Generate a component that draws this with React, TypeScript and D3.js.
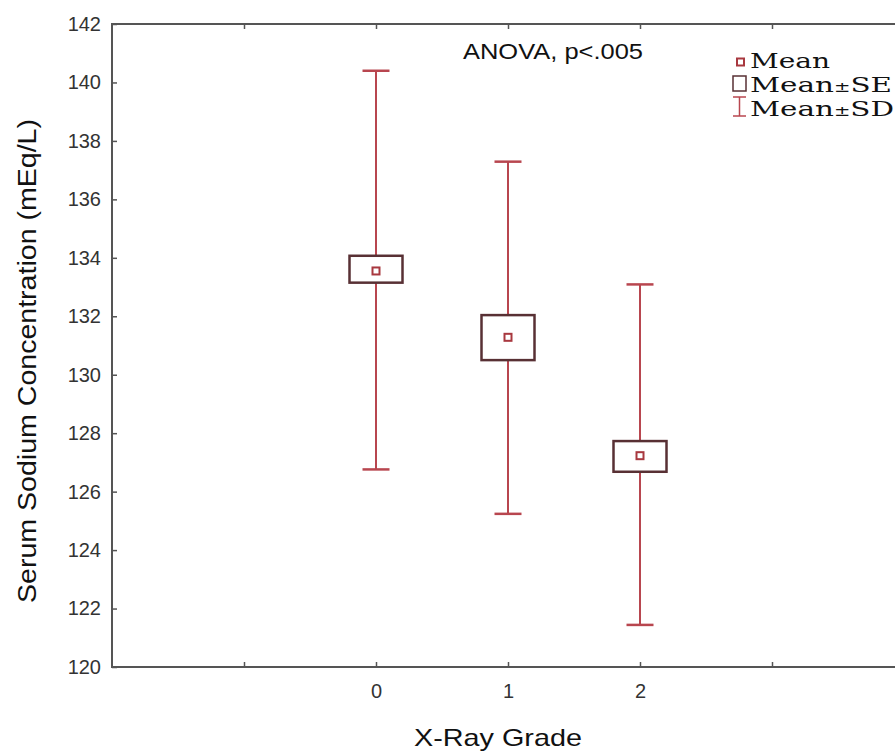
import * as d3 from 'd3';
import React, { useEffect, useRef } from 'react';

// Data
const grades = [0, 1, 2];
const means = [133.55, 131.28, 127.23];
const seLow = [133.15, 130.5, 126.68];
const seHigh = [134.07, 132.04, 127.73];
const sdLow = [126.76, 125.24, 121.44];
const sdHigh = [140.4, 137.29, 133.09];
const yTicks = [120, 122, 124, 126, 128, 130, 132, 134, 136, 138, 140, 142];
const xTicks = [-1, 0, 1, 2, 3];
const xLabelTicks = [0, 1, 2];

const legendItems = ['Mean', 'Mean±SE', 'Mean±SD'];

export default function App() {
  const svgRef = useRef<SVGSVGElement>(null);

  const width = 895;
  const height = 754;
  const left = 112;
  const top = 24;
  const bottom = 667;
  const right = 904;

  const whiskerColor = '#b8464f';
  const boxColor = '#583034';
  const meanColor = '#a8383f';
  const axisColor = '#555';

  useEffect(() => {
    const svg = d3.select(svgRef.current);
    svg.selectAll('*').remove();

    const x = d3.scaleLinear().domain([-2, 4]).range([left, right]);
    const y = d3.scaleLinear().domain([120, 142]).range([bottom, top]);

    svg.append('rect').attr('width', width).attr('height', height).attr('fill', 'white');

    // Y axis
    const yAxis = svg.append('g')
      .attr('transform', 'translate(' + left + ',0)')
      .call(d3.axisLeft(y).tickValues(yTicks).tickSize(-5).tickPadding(11).tickFormat(d3.format('d')));
    yAxis.select('.domain').remove();
    yAxis.selectAll('line').attr('stroke', axisColor).attr('stroke-width', 1.5);
    yAxis.selectAll('text')
      .attr('fill', '#333')
      .style('font-family', 'Liberation Sans, Arial, sans-serif')
      .style('font-size', '20px');

    // X axis
    const xAxis = svg.append('g')
      .attr('transform', 'translate(0,' + bottom + ')')
      .call(d3.axisBottom(x).tickValues(xTicks).tickSize(-5).tickPadding(17)
        .tickFormat((d: any) => (xLabelTicks.includes(+d) ? String(d) : '')));
    xAxis.select('.domain').remove();
    xAxis.selectAll('line').attr('stroke', axisColor).attr('stroke-width', 1.5);
    xAxis.selectAll('text')
      .attr('fill', '#333')
      .style('font-family', 'Liberation Sans, Arial, sans-serif')
      .style('font-size', '20px');

    // Top ticks
    const topAxis = svg.append('g')
      .attr('transform', 'translate(0,' + top + ')')
      .call(d3.axisTop(x).tickValues(xTicks).tickSize(-5).tickFormat(() => ''));
    topAxis.select('.domain').remove();
    topAxis.selectAll('line').attr('stroke', axisColor).attr('stroke-width', 1.5);

    // Frame
    svg.append('rect')
      .attr('x', left)
      .attr('y', top)
      .attr('width', right - left)
      .attr('height', bottom - top)
      .attr('fill', 'none')
      .attr('stroke', axisColor)
      .attr('stroke-width', 2);

    // Whiskers (Mean ± SD)
    const g = svg.append('g');
    const capHalf = 13.5;
    const boxHalf = 26.5;

    grades.forEach((grade, i) => {
      const cx = x(grade);
      g.append('line')
        .attr('x1', cx).attr('x2', cx)
        .attr('y1', y(sdLow[i])).attr('y2', y(sdHigh[i]))
        .attr('stroke', whiskerColor).attr('stroke-width', 2);
      [sdLow[i], sdHigh[i]].forEach((v) => {
        g.append('line')
          .attr('x1', cx - capHalf).attr('x2', cx + capHalf)
          .attr('y1', y(v)).attr('y2', y(v))
          .attr('stroke', whiskerColor).attr('stroke-width', 2.5);
      });

      // Box (Mean ± SE)
      g.append('rect')
        .attr('x', cx - boxHalf)
        .attr('y', y(seHigh[i]))
        .attr('width', boxHalf * 2)
        .attr('height', y(seLow[i]) - y(seHigh[i]))
        .attr('fill', 'white')
        .attr('stroke', boxColor)
        .attr('stroke-width', 2.5);

      // Mean
      g.append('rect')
        .attr('x', cx - 3.5)
        .attr('y', y(means[i]) - 3.5)
        .attr('width', 7)
        .attr('height', 7)
        .attr('fill', 'white')
        .attr('stroke', meanColor)
        .attr('stroke-width', 2);
    });

    // Annotation
    svg.append('text')
      .attr('x', 463)
      .attr('y', 59)
      .attr('fill', '#111')
      .style('font-family', 'Liberation Sans, Arial, sans-serif')
      .style('font-size', '22px')
      .attr('textLength', 180)
      .attr('lengthAdjust', 'spacingAndGlyphs')
      .text('ANOVA, p<.005');

    // Legend
    const lg = svg.append('g');
    lg.append('rect')
      .attr('x', 737).attr('y', 58.5).attr('width', 7).attr('height', 7)
      .attr('fill', 'white').attr('stroke', meanColor).attr('stroke-width', 2);
    lg.append('rect')
      .attr('x', 733).attr('y', 76).attr('width', 13).attr('height', 15)
      .attr('fill', 'white').attr('stroke', boxColor).attr('stroke-width', 1.5);
    lg.append('line').attr('x1', 739.5).attr('x2', 739.5).attr('y1', 97).attr('y2', 116)
      .attr('stroke', whiskerColor).attr('stroke-width', 1.5);
    lg.append('line').attr('x1', 733).attr('x2', 746).attr('y1', 97).attr('y2', 97)
      .attr('stroke', whiskerColor).attr('stroke-width', 1.5);
    lg.append('line').attr('x1', 733).attr('x2', 746).attr('y1', 116).attr('y2', 116)
      .attr('stroke', whiskerColor).attr('stroke-width', 1.5);

    const baselines = [68, 92, 116];
    const lengths = [80, 142, 144];
    legendItems.forEach((label, i) => {
      const t = lg.append('text')
        .attr('x', 750)
        .attr('y', baselines[i])
        .attr('fill', '#111')
        .style('font-family', 'DejaVu Serif, serif')
        .style('font-size', '21px')
        .attr('textLength', lengths[i])
        .attr('lengthAdjust', 'spacingAndGlyphs');
      const parts = label.split('±');
      t.append('tspan').text(parts[0]);
      if (parts.length > 1) {
        t.append('tspan').style('font-size', '14px').text('±');
        t.append('tspan').text(parts[1]);
      }
    });

    // Axis titles
    svg.append('text')
      .attr('x', 498)
      .attr('y', 746)
      .attr('text-anchor', 'middle')
      .attr('fill', '#111')
      .style('font-family', 'Liberation Sans, Arial, sans-serif')
      .style('font-size', '24px')
      .attr('textLength', 168)
      .attr('lengthAdjust', 'spacingAndGlyphs')
      .text('X-Ray Grade');

    svg.append('text')
      .attr('transform', 'translate(36,' + 361 + ') rotate(-90)')
      .attr('text-anchor', 'middle')
      .attr('fill', '#111')
      .style('font-family', 'Liberation Sans, Arial, sans-serif')
      .style('font-size', '25px')
      .attr('textLength', 484)
      .attr('lengthAdjust', 'spacingAndGlyphs')
      .text('Serum Sodium Concentration (mEq/L)');
  }, []);

  return (
    <svg
      ref={svgRef}
      width={width}
      height={height}
      style={{ position: 'absolute', left: 0, top: 0 }}
    ></svg>
  );
}
